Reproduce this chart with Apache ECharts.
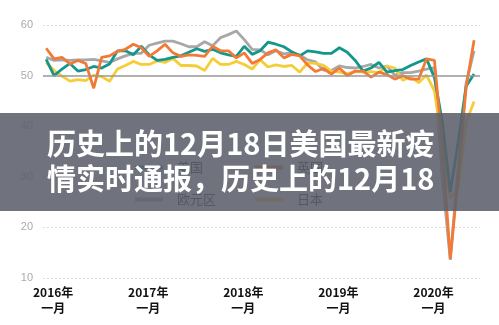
<!DOCTYPE html>
<html>
<head>
<meta charset="utf-8">
<script src="https://cdn.jsdelivr.net/npm/echarts@6/dist/echarts.min.js"></script>
<style>
  html, body { margin: 0; padding: 0; background: #fff; }
  #chart { width: 499px; height: 325px; }
</style>
</head>
<body>
<div id="chart"></div>
<script>
// Monthly composite PMI, Jan 2016 – Jul 2020
const months = [
  '2016-01','2016-02','2016-03','2016-04','2016-05','2016-06','2016-07','2016-08','2016-09','2016-10','2016-11','2016-12',
  '2017-01','2017-02','2017-03','2017-04','2017-05','2017-06','2017-07','2017-08','2017-09','2017-10','2017-11','2017-12',
  '2018-01','2018-02','2018-03','2018-04','2018-05','2018-06','2018-07','2018-08','2018-09','2018-10','2018-11','2018-12',
  '2019-01','2019-02','2019-03','2019-04','2019-05','2019-06','2019-07','2019-08','2019-09','2019-10','2019-11','2019-12',
  '2020-01','2020-02','2020-03','2020-04','2020-05','2020-06','2020-07'
];

const usa = [
  53.2, 50.0, 51.3, 52.4, 50.9, 51.2, 51.8, 51.5, 52.3, 54.9, 54.9, 54.1,
  55.8, 54.1, 53.0, 53.2, 53.6, 53.9, 54.6, 55.3, 54.8, 55.2, 54.5, 54.1,
  53.8, 55.8, 54.2, 54.9, 56.6, 56.2, 55.7, 54.7, 53.9, 54.9, 54.7, 54.4,
  54.4, 55.5, 54.6, 53.0, 50.9, 51.5, 52.6, 50.7, 51.0, 51.2, 52.0, 52.7,
  53.3, 49.6, 40.9, 27.0, 37.0, 47.9, 50.3
];
const uk = [
  55.4, 53.3, 53.6, 52.3, 53.0, 52.4, 47.5, 53.6, 53.9, 54.8, 55.2, 56.2,
  55.5, 53.8, 54.9, 56.2, 54.5, 53.8, 54.1, 54.0, 53.8, 55.8, 54.9, 54.9,
  53.5, 54.5, 52.4, 53.2, 54.5, 55.1, 53.5, 54.2, 53.9, 52.1, 50.8, 51.4,
  50.3, 51.5, 50.0, 50.9, 50.9, 49.7, 50.7, 50.2, 49.3, 50.0, 49.3, 49.3,
  53.3, 53.0, 36.0, 13.8, 30.0, 47.7, 57.0
];
const eurozone = [
  53.6, 53.0, 53.1, 53.0, 53.1, 53.1, 53.2, 52.9, 52.6, 53.3, 53.9, 54.4,
  54.4, 56.0, 56.4, 56.8, 56.8, 56.3, 55.7, 55.7, 56.7, 55.9, 57.5, 58.1,
  58.8, 57.1, 55.2, 55.1, 54.1, 54.9, 54.3, 54.5, 54.1, 53.1, 52.7, 51.1,
  51.0, 51.9, 51.6, 51.5, 51.8, 52.2, 51.5, 51.9, 50.1, 50.6, 50.6, 50.9,
  51.3, 51.6, 29.7, 13.6, 31.9, 48.5, 54.9
];
const japan = [
  52.6, 51.0, 49.9, 48.9, 49.2, 49.0, 50.1, 49.8, 48.9, 51.3, 52.0, 52.8,
  52.2, 52.2, 52.9, 52.6, 53.4, 52.0, 52.0, 51.9, 51.0, 53.4, 52.2, 52.2,
  52.8, 52.2, 51.3, 53.1, 51.7, 52.1, 51.8, 52.0, 50.7, 52.5, 52.4, 52.0,
  50.9, 50.7, 50.4, 50.8, 50.7, 50.8, 50.6, 51.9, 51.5, 49.1, 49.8, 48.6,
  50.1, 47.0, 36.2, 25.8, 27.8, 40.8, 44.9
];

const seriesNames = ['美国', '英国', '欧元区', '日本'];
const yearLabels = ['2016年', '2017年', '2018年', '2019年', '2020年'];
const monthLabel = '一月';
const titleLines = ['历史上的12月18日美国最新疫', '情实时通报，历史上的12月18'];

const colors = {
  '美国': '#12978a',
  '英国': '#f27a36',
  '欧元区': '#a8a8a8',
  '日本': '#f4cd38'
};

const toPairs = arr => arr.map((v, i) => [i, v]);
const janIndices = months.map((m, i) => m.endsWith('-01') ? i : -1).filter(i => i >= 0);

const lineSeries = (name, values, extra) => Object.assign({
  name,
  type: 'line',
  data: toPairs(values),
  symbol: 'none',
  lineStyle: { width: 2.8, color: colors[name] },
  itemStyle: { color: colors[name] }
}, extra || {});

const legendAt = (name, left, top) => ({
  data: [name],
  left, top,
  icon: 'rect',
  itemWidth: 28,
  itemHeight: 4,
  textStyle: { color: '#222', fontSize: 13, fontFamily: 'Noto Sans CJK SC', padding: [0, 0, 0, 9] }
});

const chart = echarts.init(document.getElementById('chart'));
chart.setOption({
  animation: false,
  grid: { left: 43, right: 19, top: 25, bottom: 47 },
  xAxis: {
    type: 'value',
    min: -0.4,
    max: 54.75,
    axisLine: { show: false },
    axisTick: { show: false },
    splitLine: { show: false },
    axisLabel: {
      customValues: janIndices,
      interval: 0,
      margin: 6,
      padding: [0, 0, 0, 14],
      lineHeight: 16,
      color: '#111',
      fontSize: 12,
      fontWeight: 'bold',
      fontFamily: 'Noto Sans CJK SC',
      formatter: v => yearLabels[janIndices.indexOf(v)] + '\n' + monthLabel
    }
  },
  yAxis: {
    type: 'value',
    min: 10,
    max: 60,
    interval: 10,
    axisLine: { show: false },
    axisTick: { show: false },
    axisLabel: { color: '#aaa', fontSize: 11, margin: 10, fontFamily: 'Liberation Sans' },
    splitLine: { lineStyle: { color: '#dcdcdc', type: [2, 2], width: 1 } }
  },
  legend: [
    legendAt('美国', 130, 156),
    legendAt('英国', 250, 156),
    legendAt('欧元区', 130, 188),
    legendAt('日本', 250, 188)
  ],
  series: [
    lineSeries('欧元区', eurozone, {
      markLine: {
        silent: true,
        symbol: 'none',
        label: { show: false },
        lineStyle: { color: '#9a9a9a', type: 'solid', width: 1.5 },
        data: [{ yAxis: 50 }]
      }
    }),
    lineSeries('日本', japan),
    lineSeries('美国', usa),
    lineSeries('英国', uk)
  ],
  graphic: [
    {
      type: 'rect',
      z: 100,
      shape: { x: 0, y: 113, width: 499, height: 98 },
      style: { fill: 'rgba(92,96,107,0.88)' }
    },
    {
      type: 'text',
      z: 101,
      left: 47,
      top: 129,
      style: {
        text: titleLines[0],
        fill: '#fff',
        font: 'bold 29px "Noto Sans CJK SC"'
      }
    },
    {
      type: 'text',
      z: 101,
      left: 47,
      top: 164,
      style: {
        text: titleLines[1],
        fill: '#fff',
        font: 'bold 29px "Noto Sans CJK SC"'
      }
    }
  ]
});
</script>
</body>
</html>
